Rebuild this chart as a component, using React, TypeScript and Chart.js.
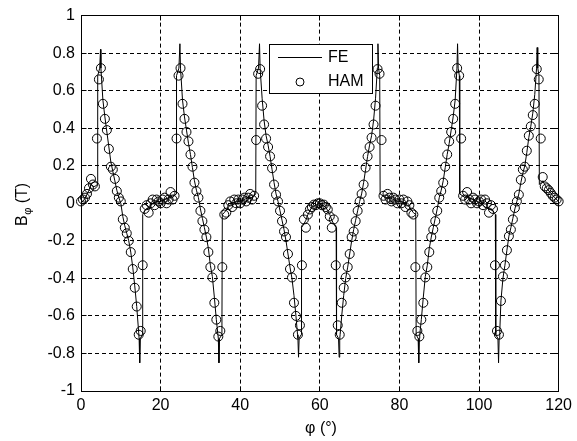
import React, { useEffect, useRef } from "react";
import { Chart, registerables } from "chart.js";

Chart.register(...registerables);

// ---- axis ticks ----
const X_TICKS = [0, 20, 40, 60, 80, 100, 120];
const X_TICK_LABELS = ["0", "20", "40", "60", "80", "100", "120"];
const Y_TICKS = [-1, -0.8, -0.6, -0.4, -0.2, 0, 0.2, 0.4, 0.6, 0.8, 1];
const Y_TICK_LABELS = ["-1", "-0.8", "-0.6", "-0.4", "-0.2", "0", "0.2", "0.4", "0.6", "0.8", "1"];

const X_TITLE = "φ (°)";
const Y_TITLE_MAIN = "B";
const Y_TITLE_SUB = "φ";
const Y_TITLE_UNIT = " (T)";
const LEGEND_LABELS = ["FE", "HAM"];

// ---- FE (line) : [phi (deg), B (T)] per 20° segment ----
const FE_SEG_0: [number, number][] = [
  [0, 0], [1, 0.025], [2, 0.07], [2.5, 0.1], [3, 0.09], [3.5, 0.09], [4.1, 0.1], [4.2, 0.68], [4.7, 0.72], [4.9, 0.82],
  [5.0, 0.72], [5.5, 0.55], [6, 0.46], [6.5, 0.38], [7, 0.3], [7.5, 0.22], [8, 0.17], [8.5, 0.12], [9, 0.07], [9.5, 0.03],
  [10, 0.0], [10.5, -0.07], [11, -0.12], [11.5, -0.16], [12, -0.2], [12.5, -0.26], [13, -0.34], [13.5, -0.44], [14, -0.55],
  [14.5, -0.69], [14.6, -0.72], [14.75, -0.85], [14.9, -0.72], [15.4, -0.7], [15.5, -0.06], [16, -0.04], [17, -0.02], [18, 0.0], [19, 0.01],
];
const FE_SEG_1: [number, number][] = [
  [20, 0.01], [21, 0.02], [22, 0.03], [23, 0.03], [23.9, 0.05], [24.0, 0.68], [24.6, 0.72], [24.85, 0.85], [25.0, 0.72],
  [25.5, 0.55], [26, 0.46], [26.5, 0.39], [27, 0.32], [27.5, 0.26], [28, 0.19], [28.5, 0.12], [29, 0.07], [29.5, 0.03],
  [30, -0.03], [30.5, -0.08], [31, -0.13], [31.5, -0.18], [32, -0.24], [32.5, -0.33], [33, -0.39], [33.5, -0.5], [34, -0.62],
  [34.4, -0.7], [34.5, -0.72], [34.65, -0.85], [34.8, -0.72], [35.4, -0.7], [35.5, -0.06], [36, -0.05], [37, -0.02], [38, 0.0], [39, 0.01],
];
const FE_SEG_2: [number, number][] = [
  [40, 0.01], [41, 0.02], [42, 0.03], [43, 0.03], [43.9, 0.05], [44.0, 0.68], [44.6, 0.72], [44.85, 0.85], [45.0, 0.72],
  [45.5, 0.56], [46, 0.44], [46.5, 0.36], [47, 0.31], [47.5, 0.25], [48, 0.18], [48.5, 0.11], [49, 0.05], [49.5, 0.01],
  [50, -0.04], [50.5, -0.09], [51, -0.14], [51.5, -0.2], [52, -0.27], [52.5, -0.34], [53, -0.4], [53.5, -0.49], [54, -0.6],
  [54.4, -0.7], [54.5, -0.72], [54.65, -0.82], [54.8, -0.72], [55.3, -0.7], [55.4, -0.13], [56, -0.11], [56.5, -0.09],
  [57, -0.06], [57.5, -0.04], [58, -0.02], [59, -0.01], [59.75, 0.0],
];
const FE_SEG_3: [number, number][] = [
  [60.5, -0.01], [61.5, -0.02], [62, -0.04], [62.5, -0.06], [63, -0.09], [63.5, -0.11], [64.1, -0.13], [64.2, -0.7],
  [64.7, -0.72], [64.85, -0.82], [65.0, -0.72], [65.1, -0.7], [65.5, -0.6], [66, -0.49], [66.5, -0.4], [67, -0.34],
  [67.5, -0.27], [68, -0.2], [68.5, -0.14], [69, -0.09], [69.5, -0.04], [70, 0.01], [70.5, 0.05], [71, 0.11], [71.5, 0.18],
  [72, 0.25], [72.5, 0.31], [73, 0.36], [73.5, 0.44], [74, 0.56], [74.45, 0.72], [74.6, 0.85], [74.75, 0.72], [75.05, 0.68],
  [75.15, 0.05], [76.5, 0.03], [77.5, 0.03], [78.5, 0.02], [79.5, 0.01],
];
const FE_SEG_4: [number, number][] = [
  [80.5, 0.01], [81.5, 0.0], [82.5, -0.02], [83.5, -0.05], [84.1, -0.06], [84.2, -0.7], [84.7, -0.72], [84.85, -0.85],
  [85.0, -0.72], [85.1, -0.7], [85.5, -0.62], [86, -0.5], [86.5, -0.39], [87, -0.33], [87.5, -0.24], [88, -0.18],
  [88.5, -0.13], [89, -0.08], [89.5, -0.03], [90, 0.03], [90.5, 0.07], [91, 0.12], [91.5, 0.19], [92, 0.26], [92.5, 0.32],
  [93, 0.39], [93.5, 0.46], [94, 0.55], [94.45, 0.72], [94.6, 0.85], [94.75, 0.72], [95.05, 0.68], [95.15, 0.05],
  [96.5, 0.03], [97.5, 0.03], [98.5, 0.02], [99.5, 0.01],
];
const FE_SEG_5: [number, number][] = [
  [100.5, 0.0], [101.5, -0.02], [102.5, -0.03], [103.5, -0.04], [104.1, -0.06], [104.2, -0.7], [104.75, -0.72],
  [104.9, -0.85], [105.05, -0.72], [105.2, -0.69], [105.5, -0.52], [106, -0.4], [106.5, -0.33], [107, -0.25],
  [107.5, -0.175], [108, -0.13], [108.5, -0.08], [109, -0.03], [109.5, 0.01], [110, 0.05], [110.5, 0.11], [111, 0.16],
  [111.5, 0.2], [112, 0.27], [112.5, 0.35], [113, 0.41], [113.5, 0.48], [114, 0.58], [114.45, 0.72], [114.6, 0.83],
  [114.75, 0.72], [115.05, 0.68], [115.15, 0.1], [116, 0.12], [116.5, 0.1], [117, 0.08], [118, 0.055], [119, 0.03], [120, 0.01],
];

// ---- HAM (circles) : sampled every 0.5° from 0° to 120° ----
const HAM_PHI_START = 0;
const HAM_PHI_STEP = 0.5;
const HAM_B = [
  // 0 – 9.5
  0.01, 0.02, 0.03, 0.05, 0.08, 0.13, 0.10, 0.09, 0.345, 0.66, 0.72, 0.53, 0.45, 0.39, 0.29, 0.195, 0.18, 0.13, 0.065, 0.03,
  // 10 – 19.5
  0.01, -0.085, -0.13, -0.16, -0.2, -0.26, -0.35, -0.45, -0.55, -0.7, -0.68, -0.33, -0.03, -0.01, -0.05, 0.0, 0.02, -0.01, 0.02, 0.01,
  // 20 – 29.5
  0.0, 0.02, 0.03, 0.0, 0.02, 0.06, 0.02, 0.04, 0.345, 0.68, 0.72, 0.53, 0.45, 0.38, 0.33, 0.26, 0.195, 0.11, 0.065, 0.03,
  // 30 – 39.5
  -0.04, -0.095, -0.14, -0.18, -0.26, -0.34, -0.395, -0.53, -0.62, -0.71, -0.68, -0.34, -0.06, -0.05, -0.01, 0.01, -0.02, 0.02, 0.0, 0.02,
  // 40 – 49.5
  0.0, 0.02, 0.03, 0.01, 0.03, 0.05, 0.02, 0.04, 0.337, 0.69, 0.715, 0.52, 0.42, 0.345, 0.3, 0.25, 0.187, 0.1, 0.046, 0.01,
  // 50 – 59.5
  -0.04, -0.095, -0.15, -0.18, -0.27, -0.35, -0.395, -0.53, -0.6, -0.7, -0.65, -0.33, -0.086, -0.13, -0.06, -0.033, -0.02, -0.007, -0.01, 0.0,
  // 60 – 69.5
  0.0, -0.01, -0.007, -0.02, -0.033, -0.07, -0.13, -0.086, -0.33, -0.65, -0.7, -0.53, -0.45, -0.395, -0.34, -0.27, -0.18, -0.15, -0.095, -0.04,
  // 70 – 79.5
  0.01, 0.05, 0.1, 0.19, 0.25, 0.3, 0.35, 0.42, 0.52, 0.715, 0.69, 0.337, 0.04, 0.02, 0.05, 0.03, 0.01, 0.03, 0.02, 0.0,
  // 80 – 89.5
  0.02, 0.0, 0.02, -0.02, 0.01, -0.01, -0.05, -0.06, -0.34, -0.68, -0.71, -0.62, -0.53, -0.395, -0.34, -0.26, -0.18, -0.14, -0.095, -0.04,
  // 90 – 99.5
  0.03, 0.065, 0.11, 0.195, 0.26, 0.33, 0.38, 0.45, 0.53, 0.72, 0.68, 0.345, 0.04, 0.02, 0.06, 0.02, 0.0, 0.03, 0.02, 0.0,
  // 100 – 109.5
  0.01, 0.02, -0.01, 0.02, 0.0, -0.05, -0.01, -0.03, -0.33, -0.68, -0.7, -0.52, -0.39, -0.33, -0.25, -0.175, -0.14, -0.086, -0.025, 0.01,
  // 110 – 120
  0.046, 0.125, 0.18, 0.195, 0.28, 0.36, 0.41, 0.47, 0.53, 0.715, 0.66, 0.345, 0.14, 0.09, 0.08, 0.07, 0.055, 0.04, 0.03, 0.02, 0.01,
];

const FONT = "'Liberation Sans', Arial, Helvetica, sans-serif";
const TICK_LEN = 5;

const alignPx = (p: number) => Math.round(p - 0.5) + 0.5;

const framePlugin = {
  id: "matlabFrame",
  afterDatasetsDraw(chart: any) {
    const { ctx, chartArea: a, scales } = chart;
    ctx.save();
    ctx.strokeStyle = "#000";
    ctx.lineWidth = 1;
    ctx.setLineDash([]);
    const L = alignPx(a.left);
    const R = alignPx(a.right);
    const T = alignPx(a.top);
    const B = alignPx(a.bottom);
    ctx.beginPath();
    X_TICKS.forEach((v) => {
      const p = alignPx(scales.x.getPixelForValue(v));
      ctx.moveTo(p, B);
      ctx.lineTo(p, B - TICK_LEN);
      ctx.moveTo(p, T);
      ctx.lineTo(p, T + TICK_LEN);
    });
    Y_TICKS.forEach((v) => {
      const p = alignPx(scales.y.getPixelForValue(v));
      ctx.moveTo(L, p);
      ctx.lineTo(L + TICK_LEN, p);
      ctx.moveTo(R, p);
      ctx.lineTo(R - TICK_LEN, p);
    });
    ctx.stroke();
    ctx.strokeRect(L, T, R - L, B - T);
    ctx.restore();
  },
};

const legendPlugin = {
  id: "matlabLegend",
  afterDraw(chart: any) {
    const ctx = chart.ctx;
    ctx.save();
    ctx.setLineDash([]);
    ctx.fillStyle = "#fff";
    ctx.strokeStyle = "#000";
    ctx.lineWidth = 1;
    ctx.fillRect(269.5, 44.5, 103, 49);
    ctx.strokeRect(269.5, 44.5, 103, 49);
    // FE entry
    ctx.beginPath();
    ctx.moveTo(278, 57.5);
    ctx.lineTo(322, 57.5);
    ctx.stroke();
    // HAM entry
    ctx.beginPath();
    ctx.arc(300, 82, 4, 0, Math.PI * 2);
    ctx.stroke();
    ctx.fillStyle = "#000";
    ctx.font = `16px ${FONT}`;
    ctx.textAlign = "left";
    ctx.textBaseline = "middle";
    ctx.fillText(LEGEND_LABELS[0], 328, 58);
    ctx.fillText(LEGEND_LABELS[1], 328, 82);
    ctx.restore();
  },
};

const titlesPlugin = {
  id: "axisTitles",
  afterDraw(chart: any) {
    const ctx = chart.ctx;
    ctx.save();
    ctx.fillStyle = "#000";
    ctx.font = `16px ${FONT}`;
    ctx.textAlign = "center";
    ctx.textBaseline = "middle";
    ctx.fillText(X_TITLE, 321, 429);
    ctx.restore();

    ctx.save();
    ctx.fillStyle = "#000";
    ctx.translate(27, 202);
    ctx.rotate(-Math.PI / 2);
    ctx.textAlign = "left";
    ctx.textBaseline = "alphabetic";
    let x = -24;
    ctx.font = `16px ${FONT}`;
    ctx.fillText(Y_TITLE_MAIN, x, 0);
    x += ctx.measureText(Y_TITLE_MAIN).width + 0.5;
    ctx.font = `11px ${FONT}`;
    ctx.fillText(Y_TITLE_SUB, x, 4);
    x += ctx.measureText(Y_TITLE_SUB).width;
    ctx.font = `16px ${FONT}`;
    ctx.fillText(Y_TITLE_UNIT, x, 0);
    ctx.restore();
  },
};

export default function App() {
  const canvasRef = useRef<HTMLCanvasElement | null>(null);

  useEffect(() => {
    const canvas = canvasRef.current;
    if (!canvas) return;

    const fePoints = [...FE_SEG_0, ...FE_SEG_1, ...FE_SEG_2, ...FE_SEG_3, ...FE_SEG_4, ...FE_SEG_5].map(([x, y]) => ({ x, y }));
    const hamPoints = HAM_B.map((y, i) => ({ x: HAM_PHI_START + i * HAM_PHI_STEP, y }));

    const tickFont = { family: FONT, size: 16 };

    const chart = new Chart(canvas, {
      type: "scatter",
      data: {
        datasets: [
          {
            label: LEGEND_LABELS[0],
            data: fePoints,
            showLine: true,
            borderColor: "#000",
            borderWidth: 1,
            pointRadius: 0,
            tension: 0,
            order: 2,
          } as any,
          {
            label: LEGEND_LABELS[1],
            data: hamPoints,
            showLine: false,
            pointRadius: 4.5,
            pointStyle: "circle",
            borderColor: "#000",
            borderWidth: 1,
            backgroundColor: "rgba(0,0,0,0)",
            clip: false,
            order: 1,
          } as any,
        ],
      },
      options: {
        animation: false,
        responsive: false,
        devicePixelRatio: 1,
        layout: { padding: { left: 0, top: 13, right: 16, bottom: 0 } },
        plugins: {
          legend: { display: false },
          tooltip: { enabled: false },
        },
        scales: {
          x: {
            type: "linear",
            min: 0,
            max: 120,
            afterFit: (s: any) => {
              s.height = 50;
            },
            afterBuildTicks: (s: any) => {
              s.ticks = X_TICKS.map((v) => ({ value: v }));
            },
            ticks: {
              color: "#000",
              font: tickFont,
              padding: 5,
              maxRotation: 0,
              autoSkip: false,
              callback: (_v: any, i: number) => X_TICK_LABELS[i],
            },
            grid: { color: "#000", lineWidth: 1, drawTicks: false },
            border: { display: false, dash: [4, 3] },
          },
          y: {
            type: "linear",
            min: -1,
            max: 1,
            afterFit: (s: any) => {
              s.width = 81;
            },
            afterBuildTicks: (s: any) => {
              s.ticks = Y_TICKS.map((v) => ({ value: v }));
            },
            ticks: {
              color: "#000",
              font: tickFont,
              padding: 6,
              autoSkip: false,
              callback: (_v: any, i: number) => Y_TICK_LABELS[i],
            },
            grid: { color: "#000", lineWidth: 1, drawTicks: false },
            border: { display: false, dash: [4, 3] },
          },
        },
      } as any,
      plugins: [framePlugin, legendPlugin, titlesPlugin],
    });

    return () => {
      chart.destroy();
    };
  }, []);

  return (
    <div style={{ position: "fixed", left: 0, top: 0, width: 577, height: 441, background: "#fff" }}>
      <canvas ref={canvasRef} width={577} height={441} style={{ display: "block", width: 577, height: 441 }} />
    </div>
  );
}
